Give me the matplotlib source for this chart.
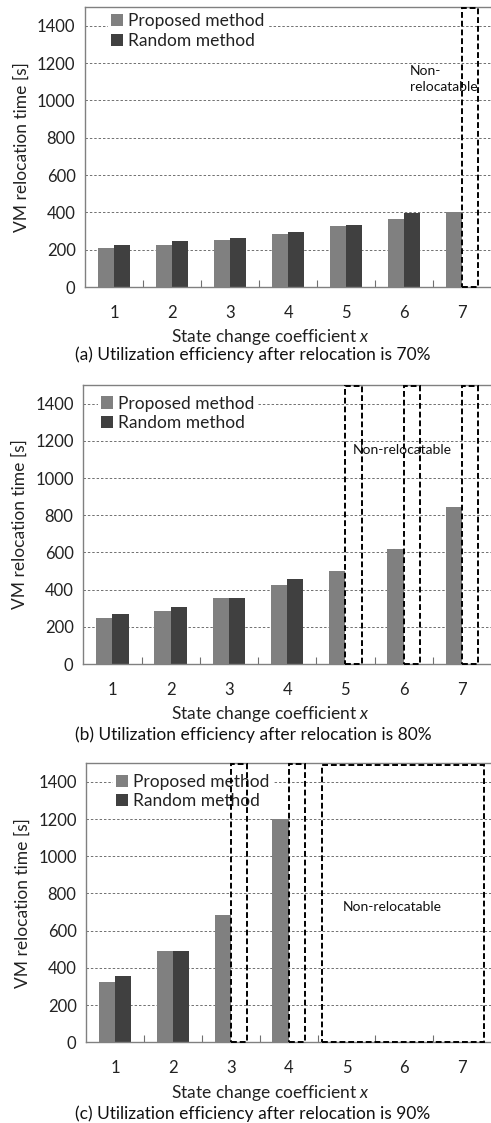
import matplotlib
matplotlib.use("Agg")
import matplotlib.pyplot as plt
from matplotlib.patches import Rectangle
from matplotlib.ticker import FixedLocator

plt.rcParams['font.family'] = ['Lato', 'DejaVu Sans']
plt.rcParams['mathtext.fontset'] = 'custom'
plt.rcParams['mathtext.it'] = 'Lato:italic'

coefficients = [1, 2, 3, 4, 5, 6, 7]
series_names = ["Proposed method", "Random method"]

# None = non-relocatable
proposed_70 = [207, 227, 254, 286, 329, 364, 404]
random_70 = [223, 245, 262, 293, 332, 395, None]
proposed_80 = [246, 285, 353, 423, 500, 617, 847]
random_80 = [268, 305, 353, 458, None, None, None]
proposed_90 = [322, 492, 684, 1201, None, None, None]
random_90 = [358, 492, None, None, None, None, None]

captions = [
    "(a) Utilization efficiency after relocation is 70%",
    "(b) Utilization efficiency after relocation is 80%",
    "(c) Utilization efficiency after relocation is 90%",
]
note = "Non-relocatable"

panels = [
    dict(prop=proposed_70, rand=random_70, rect=[0.1737, 0.7444, 0.8263, 0.2493],
         note_xy=(6.10, 1112), note_text="Non-\nrelocatable", leg=(0.055, 0.99),
         cap_y=1 - 355 / 1123, xl_y=1 - 337 / 1123, caption=captions[0]),
    dict(prop=proposed_80, rand=random_80, rect=[0.1697, 0.4087, 0.8303, 0.2484],
         note_xy=(5.13, 1150), note_text=note, leg=(0.035, 0.975),
         cap_y=1 - 735 / 1123, xl_y=1 - 714 / 1123, caption=captions[1]),
    dict(prop=proposed_90, rand=random_90, rect=[0.1758, 0.0719, 0.8242, 0.2484],
         note_xy=(4.94, 727), note_text=note, leg=(0.065, 0.975),
         cap_y=1 - 1114 / 1123, xl_y=1 - 1093 / 1123, caption=captions[2]),
]

w = 0.28
c_prop = '#808080'
c_rand = '#404040'
fs = 12.5

fig = plt.figure(figsize=(4.91, 11.23), dpi=100)

for p in panels:
    ax = fig.add_axes(p['rect'])
    xs_p = [x - w / 2 for x, v in zip(coefficients, p['prop']) if v is not None]
    vs_p = [v for v in p['prop'] if v is not None]
    xs_r = [x + w / 2 for x, v in zip(coefficients, p['rand']) if v is not None]
    vs_r = [v for v in p['rand'] if v is not None]
    ax.bar(xs_p, vs_p, width=w, color=c_prop, label=series_names[0], zorder=2)
    ax.bar(xs_r, vs_r, width=w, color=c_rand, label=series_names[1], zorder=2)

    ax.set_xlim(0.5, 7.5)
    ax.set_ylim(0, 1500)
    ax.set_yticks(range(0, 1401, 200))
    ax.set_xticks(coefficients)
    ax.xaxis.set_minor_locator(FixedLocator([1.5, 2.5, 3.5, 4.5, 5.5, 6.5]))
    ax.tick_params(axis='both', which='major', length=0, labelsize=12, colors='#222222')
    ax.tick_params(axis='y', which='major', pad=7)
    ax.tick_params(axis='x', which='major', pad=13)
    ax.tick_params(axis='x', which='minor', direction='in', length=5, width=0.8, color='#707070')
    ax.grid(axis='y', linestyle=(0, (2.5, 2)), color='#707070', linewidth=0.7, zorder=0)
    ax.set_axisbelow(True)
    for s in ['left', 'bottom', 'top']:
        ax.spines[s].set_color('#808080')
        ax.spines[s].set_linewidth(1.0)
    ax.spines['right'].set_visible(False)
    ax.set_ylabel("VM relocation time [s]", fontsize=fs, color='#222222', labelpad=5)

    # non-relocatable boxes
    missing_r = [x for x, pv, rv in zip(coefficients, p['prop'], p['rand'])
                 if pv is not None and rv is None]
    for x in missing_r:
        ax.add_patch(Rectangle((x, 0), w, 1495, fill=False, edgecolor='black',
                               linestyle=(0, (3, 1.5)), linewidth=1.4, zorder=6,
                               clip_on=False))
    missing_both = [x for x, pv in zip(coefficients, p['prop']) if pv is None]
    if missing_both:
        x0 = missing_both[0] - 0.42
        x1 = missing_both[-1] + 0.38
        ax.add_patch(Rectangle((x0, 0), x1 - x0, 1490, fill=False, edgecolor='black',
                               linestyle=(0, (3, 1.5)), linewidth=1.4, zorder=6,
                               clip_on=False))
    ax.text(p['note_xy'][0], p['note_xy'][1], p['note_text'], fontsize=10,
            ha='left', va='center', color='#111111', zorder=7, linespacing=1.4)

    leg = ax.legend(loc='upper left', bbox_to_anchor=p['leg'], fontsize=fs,
                    frameon=True, facecolor='white', edgecolor='none', framealpha=1,
                    handlelength=0.7, handleheight=0.7, handletextpad=0.3,
                    labelspacing=0.2, borderpad=0.2, borderaxespad=0, fancybox=False)
    leg.set_zorder(4)
    for t in leg.get_texts():
        t.set_color('#222222')

    fig.text(0.55, p['xl_y'], r"State change coefficient $\it{x}$", fontsize=fs,
             ha='center', va='center', color='#222222')
    fig.text(0.515, p['cap_y'], p['caption'],
             fontsize=fs, ha='center', va='center', color='#111111')

fig.savefig("out.png", dpi=100)
